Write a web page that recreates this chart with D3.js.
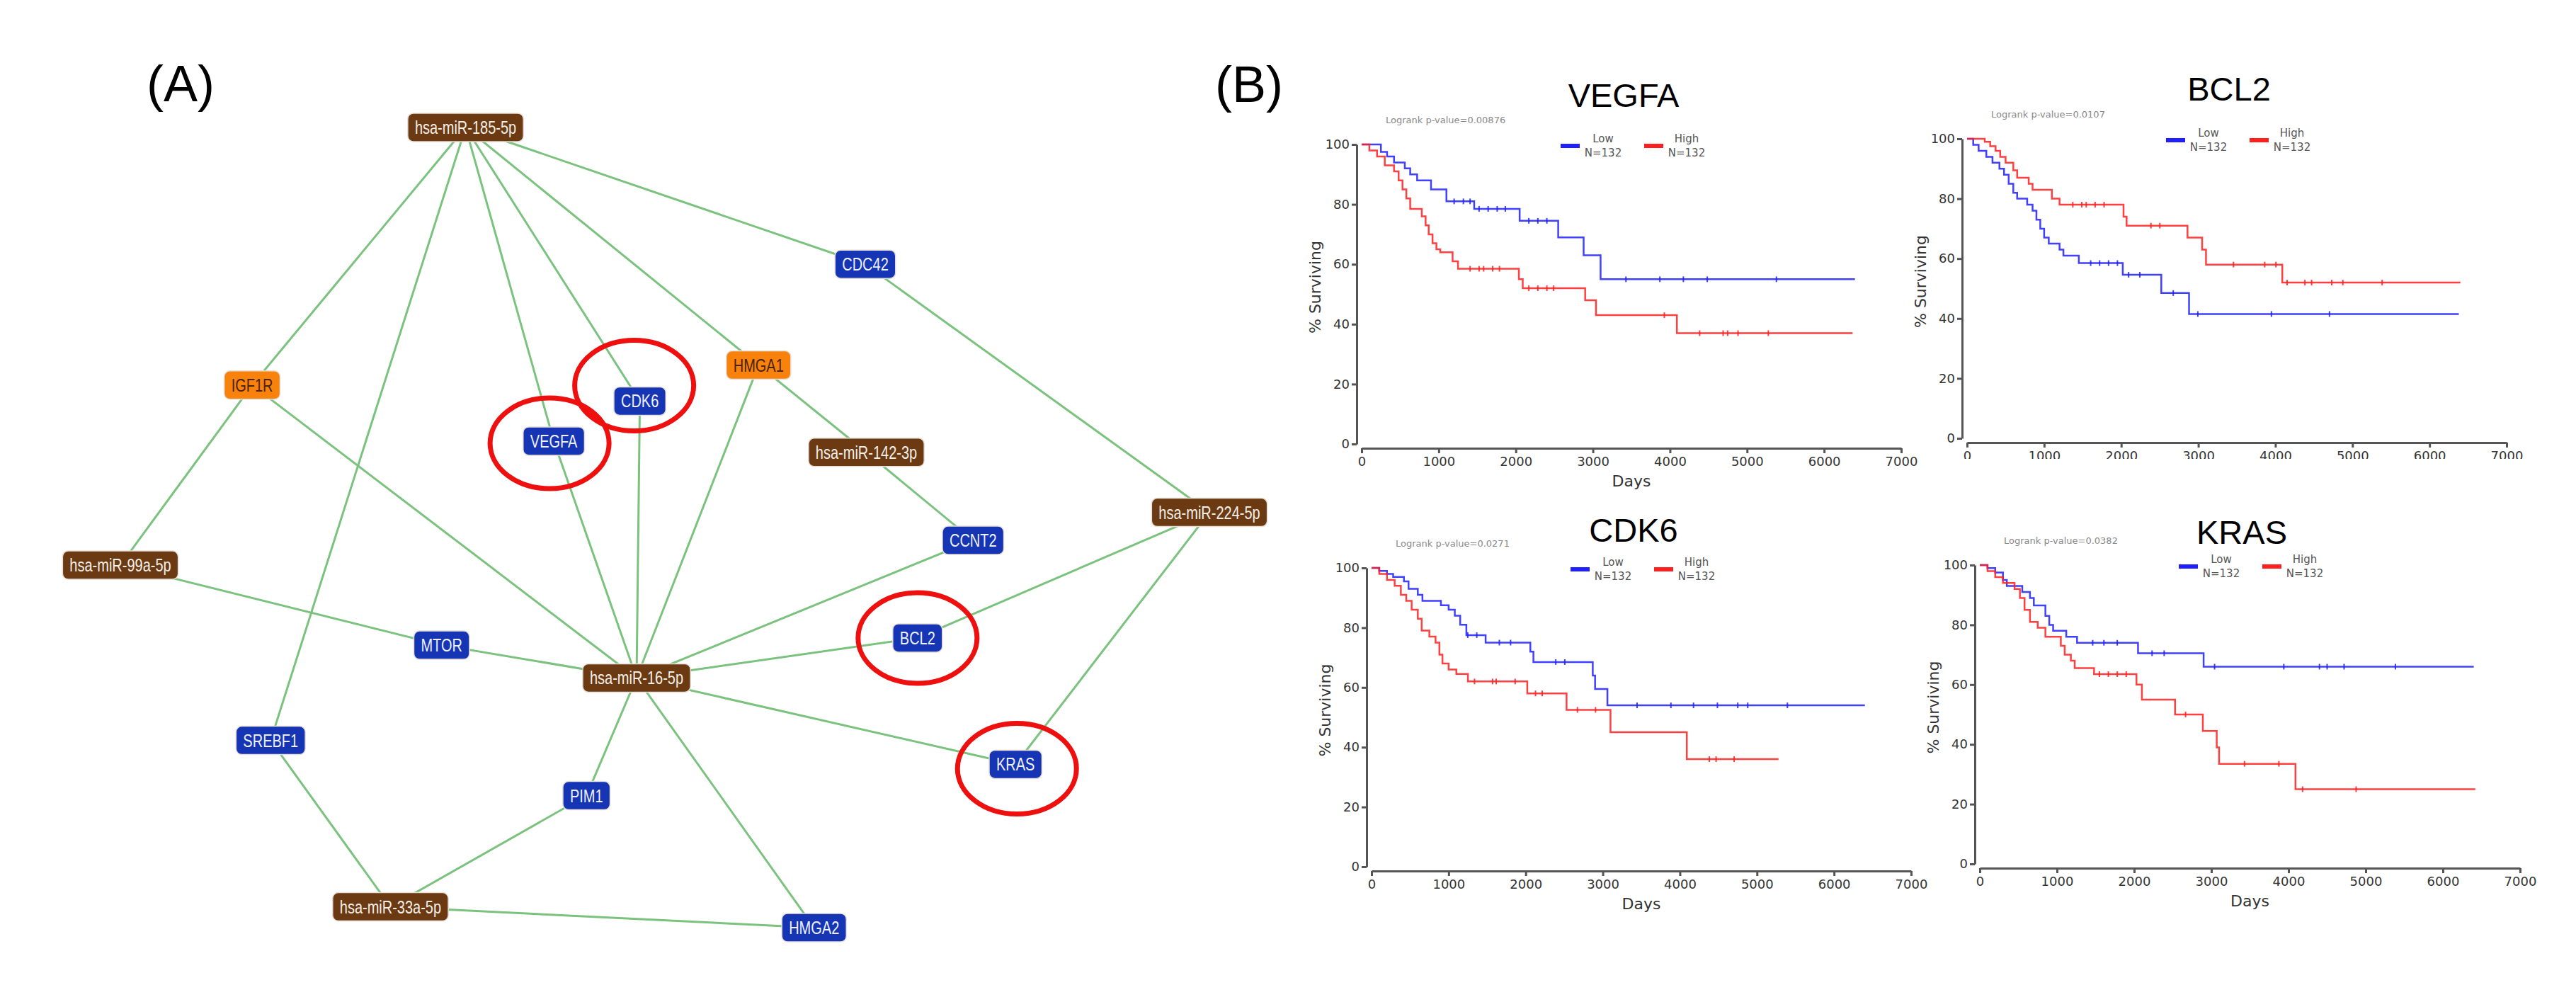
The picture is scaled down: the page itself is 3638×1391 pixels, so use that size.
<!DOCTYPE html>
<html lang="en">
  <head>
    <meta charset="UTF-8" />
    <title>miRNA network and survival curves</title>
    <script src="https://cdn.jsdelivr.net/npm/d3@7"></script>
    <style>
      body { margin: 0; background: #fff; }
      .node-label { font-family: 'Liberation Sans', Arial, sans-serif; font-size: 25px; }
      .km text { font-family: 'DejaVu Sans', sans-serif; }
      .km .tick text { font-size: 18px; fill: #333; }
      .km .domain, .km .tick line { stroke: #555; stroke-width: 3; }
    </style>
  </head>
  <body>
    <script>
      // ---- network (panel A) ----
      const nodeNames = ['hsa-miR-185-5p', 'CDC42', 'HMGA1', 'IGF1R', 'CDK6', 'VEGFA',
        'hsa-miR-142-3p', 'hsa-miR-224-5p', 'CCNT2', 'hsa-miR-99a-5p', 'BCL2', 'MTOR',
        'hsa-miR-16-5p', 'SREBF1', 'KRAS', 'PIM1', 'hsa-miR-33a-5p', 'HMGA2'];
      const nodeKind = ['mir', 'target', 'onco', 'onco', 'target', 'target',
        'mir', 'mir', 'target', 'mir', 'target', 'target',
        'mir', 'target', 'target', 'target', 'mir', 'target'];
      // layout units 0..100
      const nodeX = [31.7, 68.4, 58.6, 12.1, 47.7, 39.8, 68.5, 100, 78.3, 0, 73.2, 29.5, 47.4, 13.8, 82.2, 42.8, 24.8, 63.7];
      const nodeY = [0, 17.1, 29.7, 32.2, 34.2, 39.2, 40.6, 48.1, 51.6, 54.7, 63.8, 64.7, 68.8, 76.6, 79.6, 83.5, 97.4, 100];
      const edgeFrom = ['hsa-miR-185-5p', 'hsa-miR-185-5p', 'hsa-miR-185-5p', 'hsa-miR-185-5p', 'hsa-miR-185-5p', 'hsa-miR-185-5p',
        'CDC42', 'IGF1R', 'IGF1R', 'HMGA1', 'HMGA1', 'hsa-miR-142-3p', 'CCNT2', 'VEGFA', 'CDK6',
        'hsa-miR-99a-5p', 'MTOR', 'BCL2', 'BCL2', 'KRAS', 'KRAS', 'hsa-miR-16-5p', 'hsa-miR-16-5p',
        'PIM1', 'SREBF1', 'hsa-miR-33a-5p'];
      const edgeTo = ['IGF1R', 'SREBF1', 'VEGFA', 'CDK6', 'HMGA1', 'CDC42',
        'hsa-miR-224-5p', 'hsa-miR-99a-5p', 'hsa-miR-16-5p', 'hsa-miR-142-3p', 'hsa-miR-16-5p', 'CCNT2', 'hsa-miR-16-5p', 'hsa-miR-16-5p', 'hsa-miR-16-5p',
        'MTOR', 'hsa-miR-16-5p', 'hsa-miR-16-5p', 'hsa-miR-224-5p', 'hsa-miR-16-5p', 'hsa-miR-224-5p', 'PIM1', 'HMGA2',
        'hsa-miR-33a-5p', 'hsa-miR-33a-5p', 'HMGA2'];
      const highlighted = ['VEGFA', 'CDK6', 'BCL2', 'KRAS'];

      // ---- survival curves (panel B): [day, % surviving] steps ----
      const genes = ['VEGFA', 'BCL2', 'CDK6', 'KRAS'];
      const pValues = ['0.00876', '0.0107', '0.0271', '0.0382'];
      const groupNames = ['Low', 'High'];
      const groupN = [132, 132];
      const dayTicks = [0, 1000, 2000, 3000, 4000, 5000, 6000, 7000];
      const survTicks = [0, 20, 40, 60, 80, 100];

      const vegfaLow = [[0, 100], [250, 97.5], [330, 96], [420, 94], [560, 92], [630, 90], [720, 88], [900, 85], [1100, 81], [1460, 78.5], [2050, 74.5], [2550, 69], [2880, 63], [3100, 55], [6400, 55]];
      const vegfaHigh = [[0, 100], [100, 98], [200, 96], [300, 93], [420, 91], [480, 88], [530, 85], [580, 82], [630, 78.5], [780, 76], [830, 73], [870, 70], [920, 67], [970, 65], [1020, 64], [1180, 61], [1250, 58.5], [2040, 55], [2090, 52], [2900, 48], [3040, 43], [4090, 37], [6370, 37]];
      const bcl2Low = [[0, 100], [80, 98], [150, 96], [250, 94], [330, 92], [420, 90], [480, 88], [540, 85], [600, 82], [650, 80], [780, 78], [850, 76], [900, 73], [950, 70], [1000, 67], [1060, 65], [1200, 63], [1250, 61], [1450, 58.5], [2020, 54.6], [2520, 48.5], [2880, 41.5], [6380, 41.5]];
      const bcl2High = [[0, 100], [230, 99], [300, 97.5], [370, 96], [430, 94], [500, 92], [600, 89.5], [650, 87], [800, 85], [850, 83], [1100, 80], [1200, 78], [2030, 74], [2070, 71], [2860, 67], [3050, 63], [3100, 58], [4090, 52], [6400, 52]];
      const cdk6Low = [[0, 100], [100, 99], [200, 98], [280, 97], [420, 95.5], [480, 93], [600, 91], [660, 89], [900, 87.5], [1000, 86], [1080, 84], [1150, 81], [1230, 77.5], [1480, 75], [2060, 72], [2100, 68.5], [2870, 64], [2900, 59.5], [3060, 54], [6400, 54]];
      const cdk6High = [[0, 100], [100, 98], [200, 96], [300, 94], [380, 91], [450, 89], [520, 86], [600, 83], [650, 79], [750, 77], [830, 75], [880, 71], [920, 68], [1000, 66], [1100, 64.5], [1250, 62], [2020, 58], [2530, 52.5], [3100, 45], [4090, 36], [5280, 36]];
      const krasLow = [[0, 100], [100, 99], [200, 97.5], [300, 95], [350, 93], [550, 91], [650, 89], [700, 86.5], [850, 83], [900, 80], [950, 78], [1120, 76], [1260, 74], [2050, 70.5], [2900, 66], [6400, 66]];
      const krasHigh = [[0, 100], [100, 98], [200, 96], [300, 94], [450, 92], [520, 89], [580, 85], [650, 81], [750, 79], [850, 76], [1050, 73], [1100, 70], [1180, 68], [1230, 65.5], [1480, 63.5], [2030, 60], [2100, 55], [2530, 50], [2890, 44.5], [3070, 39], [3100, 33.5], [4090, 25], [6420, 25]];

      // censored observations (days)
      const vegfaLowCensor = [1200, 1320, 1407, 1524, 1641, 1759, 1864, 2169, 2286, 2403, 3429, 3869, 4174, 4484, 5381];
      const vegfaHighCensor = [1407, 1524, 1583, 1700, 1788, 2169, 2286, 2403, 2491, 3927, 4385, 4690, 4748, 4883, 5276];
      const bcl2LowCensor = [1604, 1720, 1836, 1951, 2096, 2241, 2675, 2994, 3949, 4702];
      const bcl2HighCensor = [1372, 1488, 1546, 1662, 1778, 2386, 2501, 3457, 3862, 4007, 4152, 4383, 4470, 4731, 4875, 5385];
      const cdk6LowCensor = [1248, 1365, 1658, 1804, 2390, 2507, 3445, 3884, 4177, 4487, 4751, 4880, 5395];
      const cdk6HighCensor = [1336, 1570, 1617, 1863, 2127, 2214, 2671, 2906, 4382, 4470, 4704];
      const krasLowCensor = [1463, 1608, 1781, 2232, 2389, 3042, 3939, 4401, 4500, 4720, 5385];
      const krasHighCensor = [1550, 1666, 1781, 1897, 2666, 3430, 3875, 4182, 4876];

      const curves = {
        VEGFA: [[vegfaLow, vegfaLowCensor], [vegfaHigh, vegfaHighCensor]],
        BCL2: [[bcl2Low, bcl2LowCensor], [bcl2High, bcl2HighCensor]],
        CDK6: [[cdk6Low, cdk6LowCensor], [cdk6High, cdk6HighCensor]],
        KRAS: [[krasLow, krasLowCensor], [krasHigh, krasHighCensor]]
      };

      const width = 3638;
      const height = 1391;
      const svg = d3.select('body').append('svg').attr('width', width).attr('height', height);

      // panel letters
      svg.append('text').text('(A)').attr('x', 255).attr('y', 143)
        .attr('text-anchor', 'middle').attr('font-family', 'Liberation Sans, Arial, sans-serif').attr('font-size', 72);
      svg.append('text').text('(B)').attr('x', 1764).attr('y', 144)
        .attr('text-anchor', 'middle').attr('font-family', 'Liberation Sans, Arial, sans-serif').attr('font-size', 72);

      // ---------- network ----------
      const netX = d3.scaleLinear().domain([0, 100]).range([170, 1708]);
      const netY = d3.scaleLinear().domain([0, 100]).range([180, 1310]);
      const nodes = nodeNames.map((n, i) => ({ name: n, kind: nodeKind[i], x: netX(nodeX[i]), y: netY(nodeY[i]) }));
      const byName = new Map(nodes.map((d) => [d.name, d]));
      const edges = edgeFrom.map((f, i) => ({ s: byName.get(f), t: byName.get(edgeTo[i]) }));
      const fillOf = { mir: '#6b3a12', target: '#1535b5', onco: '#f8820c' };
      const textOf = { mir: '#f4eee8', target: '#eef0ff', onco: '#4a2306' };
      const squeeze = 0.8; // labels in the source use a condensed face

      const net = svg.append('g');
      net.selectAll('line.edge').data(edges).enter().append('line')
        .attr('class', 'edge')
        .attr('x1', (d) => d.s.x).attr('y1', (d) => d.s.y)
        .attr('x2', (d) => d.t.x).attr('y2', (d) => d.t.y)
        .attr('stroke', '#7cc27f').attr('stroke-width', 3);

      // red rings round the genes that have survival plots
      const ringShift = { CDK6: [-8, -22], VEGFA: [-6, 3], KRAS: [2, 6] };
      net.selectAll('ellipse').data(nodes.filter((d) => highlighted.includes(d.name))).enter()
        .append('ellipse')
        .attr('cx', (d) => d.x + (ringShift[d.name] || [0, 0])[0])
        .attr('cy', (d) => d.y + (ringShift[d.name] || [0, 0])[1])
        .attr('rx', 84).attr('ry', 64)
        .attr('fill', 'none').attr('stroke', '#ee0f0f').attr('stroke-width', 7);

      const ng = net.selectAll('g.node').data(nodes).enter().append('g')
        .attr('class', 'node')
        .attr('transform', (d) => `translate(${d.x},${d.y})`);
      ng.append('rect');
      ng.append('text').attr('class', 'node-label')
        .attr('text-anchor', 'middle').attr('dy', '0.36em')
        .attr('transform', `scale(${squeeze},1)`)
        .attr('fill', (d) => textOf[d.kind])
        .text((d) => d.name);
      ng.each(function (d) {
        const w = d3.select(this).select('text').node().getComputedTextLength() * squeeze + 20;
        d3.select(this).select('rect')
          .attr('x', -w / 2).attr('y', -20).attr('width', w).attr('height', 40)
          .attr('rx', 8).attr('fill', fillOf[d.kind])
          .attr('stroke', '#e6ddd6').attr('stroke-width', 1.5);
      });

      // ---------- Kaplan-Meier panels ----------
      const panels = [
        { gene: 'VEGFA', x0: 1923, x1: 2685, yTop: 204, yBot: 627, titleY: 151, bgX: null },
        { gene: 'BCL2', x0: 2778, x1: 3540, yTop: 196, yBot: 619, titleY: 142, bgX: 2697 },
        { gene: 'CDK6', x0: 1937, x1: 2699, yTop: 802, yBot: 1224, titleY: 765, bgX: null },
        { gene: 'KRAS', x0: 2796, x1: 3559, yTop: 798, yBot: 1220, titleY: 768, bgX: 2711 }
      ];
      const colors = ['#1f1fff', '#ff1f1f'];

      const stepValue = (steps, day) => {
        let v = steps[0][1];
        steps.forEach((s) => { if (s[0] <= day) v = s[1]; });
        return v;
      };

      panels.forEach((p) => {
        const gi = genes.indexOf(p.gene);
        const g = svg.append('g').attr('class', 'km');
        if (p.bgX !== null) {
          g.append('rect').attr('x', p.bgX).attr('y', p.yTop - 150)
            .attr('width', width - p.bgX).attr('height', 560).attr('fill', '#fff');
        }
        const x = d3.scaleLinear().domain([0, 7000]).range([p.x0, p.x1]);
        const y = d3.scaleLinear().domain([0, 100]).range([p.yBot, p.yTop]);

        g.append('g').attr('transform', `translate(0,${p.yBot + 6})`)
          .call(d3.axisBottom(x).tickValues(dayTicks).tickFormat(d3.format('d'))
            .tickSize(7).tickSizeOuter(0).tickPadding(5));
        g.append('g').attr('transform', `translate(${p.x0 - 7},0)`)
          .call(d3.axisLeft(y).tickValues(survTicks).tickSize(7).tickSizeOuter(0).tickPadding(3));

        g.append('text').text('Days')
          .attr('x', x(3500)).attr('y', p.yBot + 60)
          .attr('text-anchor', 'middle').attr('font-size', 22).attr('fill', '#333');
        g.append('text').text('% Surviving')
          .attr('transform', `translate(${p.x0 - 58},${(p.yTop + p.yBot) / 2 - 10}) rotate(-90)`)
          .attr('text-anchor', 'middle').attr('font-size', 22).attr('fill', '#333');

        g.append('text').text(p.gene)
          .attr('x', p.x0 + 370).attr('y', p.titleY)
          .attr('text-anchor', 'middle').attr('font-size', 47)
          .style('font-family', 'Liberation Sans, Arial, sans-serif').attr('fill', '#000');
        g.append('text').text(`Logrank p-value=${pValues[gi]}`)
          .attr('x', p.x0 + 34).attr('y', p.yTop - 30)
          .attr('font-size', 13).attr('fill', '#888');

        // legend
        groupNames.forEach((name, k) => {
          const lx = p.x0 + 281 + k * 118;
          const ly = p.yTop + 2;
          g.append('line').attr('x1', lx).attr('x2', lx + 27).attr('y1', ly).attr('y2', ly)
            .attr('stroke', colors[k]).attr('stroke-width', 6);
          g.append('text').text(name).attr('x', lx + 60).attr('y', ly - 5)
            .attr('text-anchor', 'middle').attr('font-size', 15).attr('fill', '#555');
          g.append('text').text(`N=${groupN[k]}`).attr('x', lx + 60).attr('y', ly + 15)
            .attr('text-anchor', 'middle').attr('font-size', 15).attr('fill', '#555');
        });

        const line = d3.line().x((d) => x(d[0])).y((d) => y(d[1])).curve(d3.curveStepAfter);
        curves[p.gene].forEach(([steps, censor], k) => {
          g.append('path').datum(steps)
            .attr('d', line).attr('fill', 'none')
            .attr('stroke', colors[k]).attr('stroke-width', 2.5).attr('stroke-opacity', 0.85);
          g.selectAll(null).data(censor).enter().append('line')
            .attr('x1', (d) => x(d)).attr('x2', (d) => x(d))
            .attr('y1', (d) => y(stepValue(steps, d)) - 4)
            .attr('y2', (d) => y(stepValue(steps, d)) + 4)
            .attr('stroke', colors[k]).attr('stroke-width', 2).attr('stroke-opacity', 0.85);
        });
      });
    </script>
  </body>
</html>
